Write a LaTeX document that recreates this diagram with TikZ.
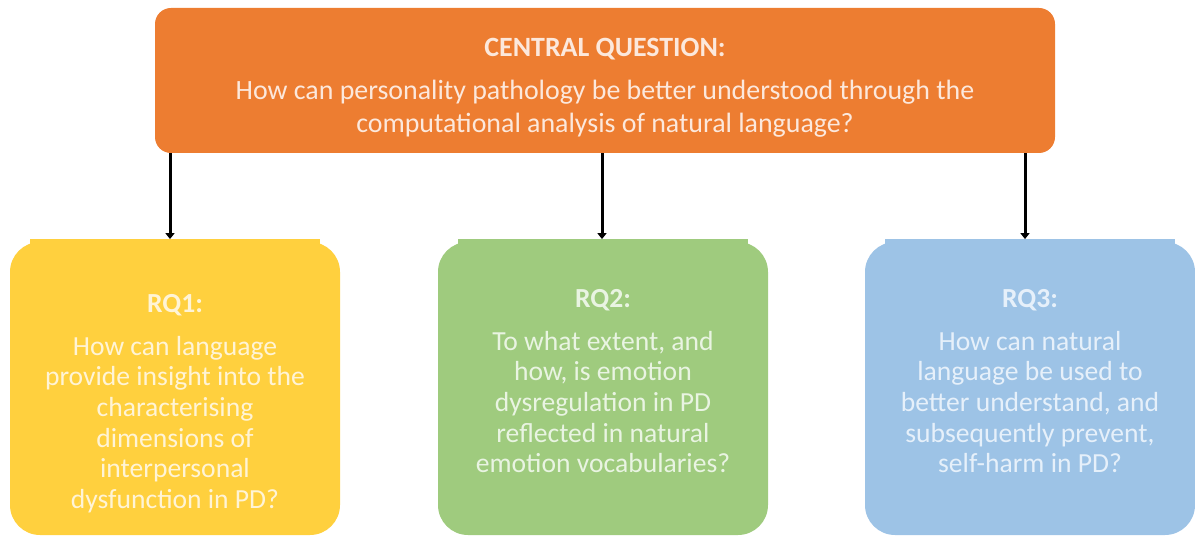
\documentclass[tikz,border=0pt]{standalone}
\usepackage{fontspec}
\setmainfont{Carlito}
\usetikzlibrary{arrows.meta}

\definecolor{cqorange}{HTML}{ED7D31}
\definecolor{cqtext}{HTML}{FCE8DC}
\definecolor{rqyellow}{HTML}{FFD03E}
\definecolor{rqytext}{HTML}{FFF4D6}
\definecolor{rqgreen}{HTML}{9FCB7E}
\definecolor{rqgtext}{HTML}{E9F4E2}
\definecolor{rqblue}{HTML}{9DC3E6}
\definecolor{rqbtext}{HTML}{E6F0FA}

\tikzset{
  centralbox/.style={fill=cqorange, rounded corners=16pt, inner sep=0pt,
    minimum width=900pt, minimum height=145pt},
  rqbox/.style={rounded corners=30pt, inner sep=0pt,
    minimum width=330pt, minimum height=293pt},
  topstrip/.style={inner sep=0pt, minimum width=290pt, minimum height=5pt},
  link/.style={line width=3pt, -{Triangle[length=6pt,width=9pt]}},
  bigtext/.style={align=center, inner sep=0pt, anchor=north,
    font=\fontsize{27.9}{33}\selectfont},
  rqtext/.style={align=center, inner sep=0pt, anchor=north,
    font=\fontsize{27.6}{30.6}\selectfont}
}

\begin{document}
\begin{tikzpicture}[x=1pt,y=-1pt]
  \path[use as bounding box] (0,0) rectangle (1195,537);

  % central question
  \node[centralbox] (cq) at (605,80.5) {};
  \node[bigtext, text=cqtext] (cqt) at (605,38) {\textbf{CENTRAL QUESTION:}\\[10pt]
    How can personality pathology be better understood through the\\
    computational analysis of natural language?};

  % research question boxes
  \node[rqbox, fill=rqyellow] (rq1) at (175,388.5) {};
  \node[topstrip, fill=rqyellow] (s1) at (rq1.north) {};
  \node[rqbox, fill=rqgreen] (rq2) at (603,388.5) {};
  \node[topstrip, fill=rqgreen] (s2) at (rq2.north) {};
  \node[rqbox, fill=rqblue] (rq3) at (1030,388.5) {};
  \node[topstrip, fill=rqblue] (s3) at (rq3.north) {};

  \node[rqtext, text=rqytext] (rq1t) at (175,294.5) {\textbf{RQ1:}\\[12pt]
    How can language\\ provide insight into the\\ characterising\\
    dimensions of\\ interpersonal\\ dysfunction in PD?};
  \node[rqtext, text=rqgtext] (rq2t) at (603,289.5) {\textbf{RQ2:}\\[12pt]
    To what extent, and\\ how, is emotion\\ dysregulation in PD\\
    reflected in natural\\ emotion vocabularies?};
  \node[rqtext, text=rqbtext] (rq3t) at (1030,289.5) {\textbf{RQ3:}\\[12pt]
    How can natural\\ language be used to\\ better understand, and\\
    subsequently prevent,\\ self-harm in PD?};

  % connectors
  \draw[link] ([xshift=-5pt]rq1.north |- cq.south) -- ([xshift=-5pt]s1.north);
  \draw[link] ([xshift=-1pt]rq2.north |- cq.south) -- ([xshift=-1pt]s2.north);
  \draw[link] ([xshift=-5pt]rq3.north |- cq.south) -- ([xshift=-5pt]s3.north);
\end{tikzpicture}
\end{document}
